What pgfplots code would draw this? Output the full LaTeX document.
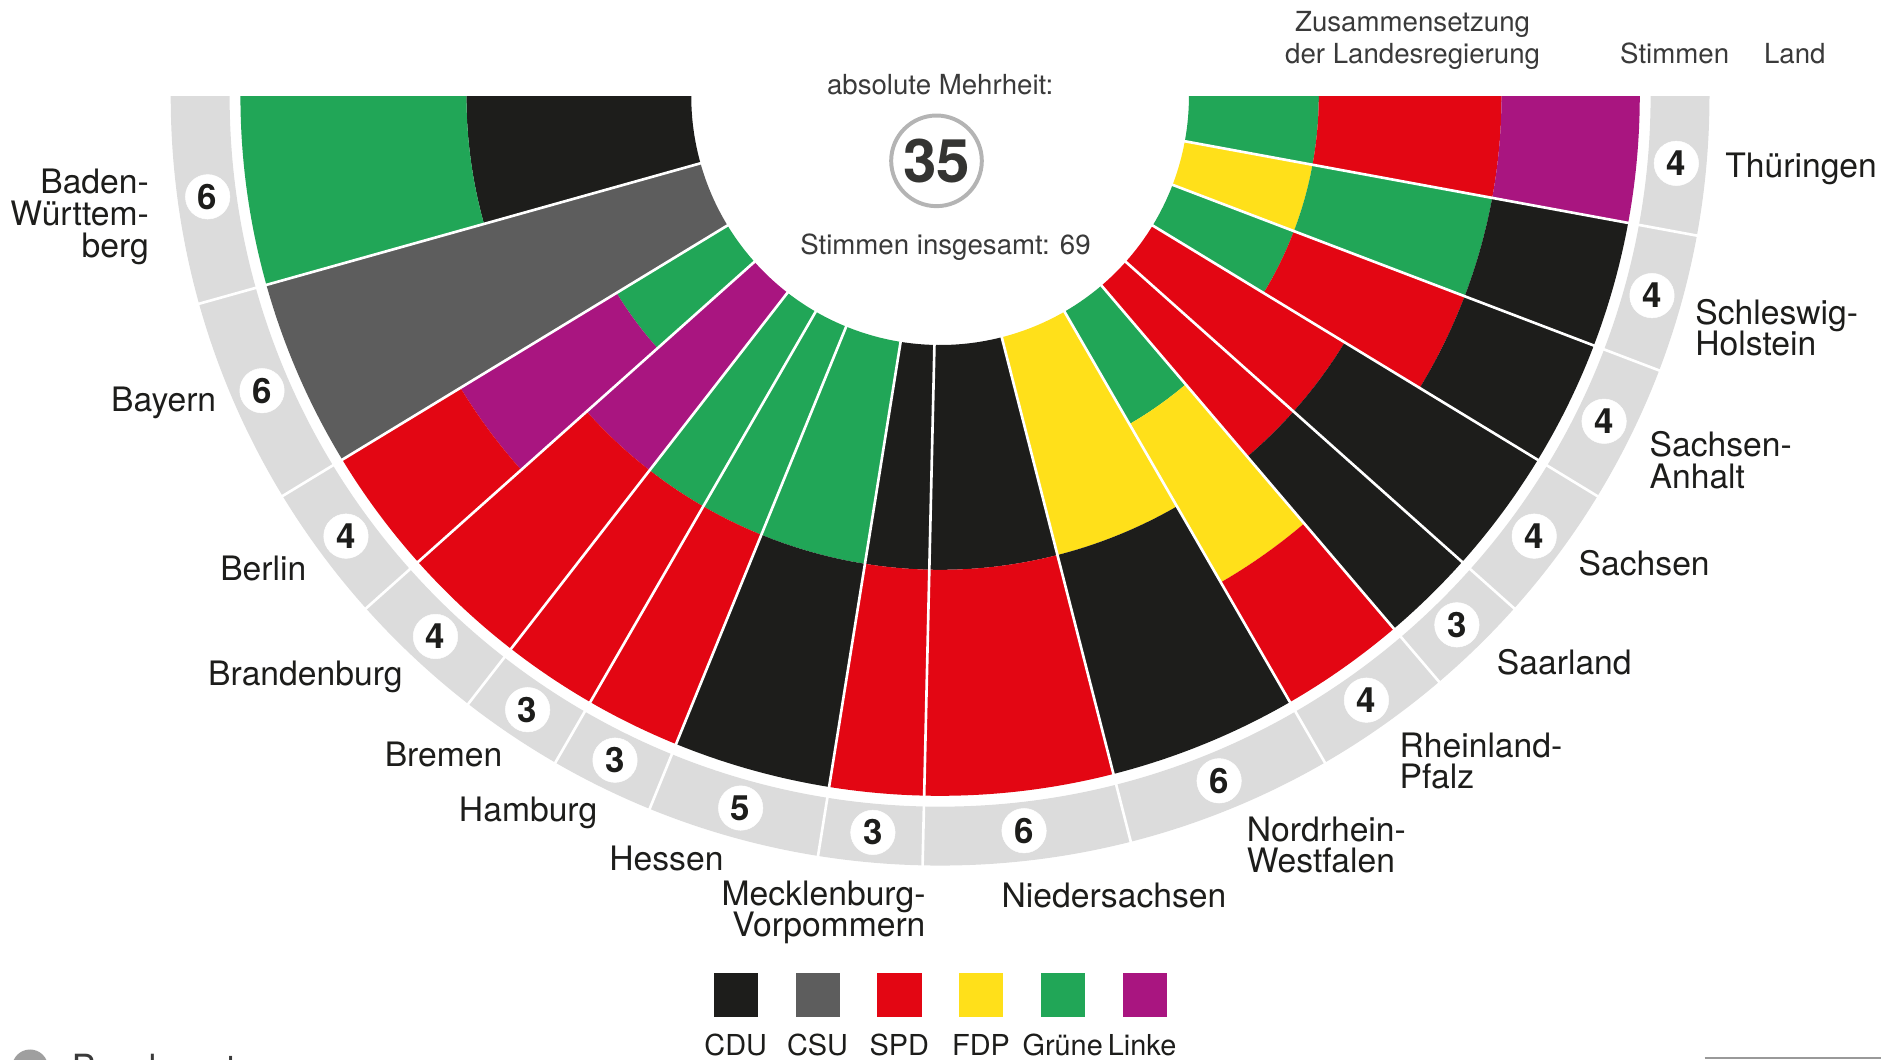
\documentclass[border=0pt]{standalone}
\usepackage{fontspec}
\setmainfont{TeX Gyre Heros}
\usepackage{pgfplots}
\usepgfplotslibrary{polar}
\pgfplotsset{compat=1.18}

\definecolor{cdu}{HTML}{1D1D1B}
\definecolor{csu}{HTML}{5D5D5D}
\definecolor{spd}{HTML}{E30613}
\definecolor{fdp}{HTML}{FFE01A}
\definecolor{gruene}{HTML}{21A657}
\definecolor{linke}{HTML}{A91580}
\definecolor{ring}{HTML}{DCDCDC}
\definecolor{txt}{HTML}{1D1D1B}
\definecolor{sub}{HTML}{3A3A3A}
\definecolor{circgrey}{HTML}{B4B4B4}

% annular sector: start vote, end vote (of 69), inner radius, outer radius, colour
\newcommand{\band}[5]{%
  \fill[#5] (axis cs:{#3*cos(180+#1*180/69)},{#3*sin(180+#1*180/69)})
    arc[start angle={180+#1*180/69}, end angle={180+#2*180/69}, radius=#3pt]
    -- (axis cs:{#4*cos(180+#2*180/69)},{#4*sin(180+#2*180/69)})
    arc[start angle={180+#2*180/69}, end angle={180+#1*180/69}, radius=#4pt]
    -- cycle;}

\tikzset{lab/.style={font=\fontsize{28}{28}\selectfont, text=txt, inner sep=0pt},
         hdr/.style={font=\fontsize{23}{23}\selectfont, text=sub, inner sep=0pt, anchor=base},
         leg/.style={font=\fontsize{24}{24}\selectfont, text=txt, inner sep=0pt, anchor=base}}

\begin{document}
\begin{tikzpicture}
\begin{axis}[x=1pt, y=1pt, xmin=-782, xmax=786, ymin=-801, ymax=80,
  hide axis, clip=false]

% ---- governing parties of each Land, inner to outer (votes cumulative 0..69)
% Baden-Wuerttemberg (6)
\band{0}{6}{207}{394}{cdu}
\band{0}{6}{394}{582}{gruene}
% Bayern (6)
\band{6}{12}{207}{582}{csu}
% Berlin (4)
\band{12}{16}{207}{315}{gruene}
\band{12}{16}{315}{467}{linke}
\band{12}{16}{467}{582}{spd}
% Brandenburg (4)
\band{16}{20}{207}{394}{linke}
\band{16}{20}{394}{582}{spd}
% Bremen (3)
\band{20}{23}{207}{394}{gruene}
\band{20}{23}{394}{582}{spd}
% Hamburg (3)
\band{23}{26}{207}{394}{gruene}
\band{23}{26}{394}{582}{spd}
% Hessen (5)
\band{26}{31}{207}{394}{gruene}
\band{26}{31}{394}{582}{cdu}
% Mecklenburg-Vorpommern (3)
\band{31}{34}{207}{394}{cdu}
\band{31}{34}{394}{582}{spd}
% Niedersachsen (6)
\band{34}{40}{207}{394}{cdu}
\band{34}{40}{394}{582}{spd}
% Nordrhein-Westfalen (6)
\band{40}{46}{207}{394}{fdp}
\band{40}{46}{394}{582}{cdu}
% Rheinland-Pfalz (4)
\band{46}{50}{207}{315}{gruene}
\band{46}{50}{315}{467}{fdp}
\band{46}{50}{467}{582}{spd}
% Saarland (3)
\band{50}{53}{207}{394}{spd}
\band{50}{53}{394}{582}{cdu}
% Sachsen (4)
\band{53}{57}{207}{394}{spd}
\band{53}{57}{394}{582}{cdu}
% Sachsen-Anhalt (4)
\band{57}{61}{207}{315}{gruene}
\band{57}{61}{315}{467}{spd}
\band{57}{61}{467}{582}{cdu}
% Schleswig-Holstein (4)
\band{61}{65}{207}{315}{fdp}
\band{61}{65}{315}{467}{gruene}
\band{61}{65}{467}{582}{cdu}
% Thueringen (4)
\band{65}{69}{207}{315}{gruene}
\band{65}{69}{315}{467}{spd}
\band{65}{69}{467}{582}{linke}

% ---- grey ring for the votes
\fill[ring] (axis cs:-591,0) arc[start angle=180, end angle=360, radius=591pt]
  -- (axis cs:640,0) arc[start angle=0, end angle=-180, radius=640pt] -- cycle;

% ---- white separators between the Laender
\pgfplotsinvokeforeach{6,12,16,20,23,26,31,34,40,46,50,53,57,61,65}{
  \draw[white, line width=2.2pt]
    (axis cs:{200*cos(180+#1*180/69)},{200*sin(180+#1*180/69)}) --
    (axis cs:{646*cos(180+#1*180/69)},{646*sin(180+#1*180/69)});
}

% ---- vote counts (polar: angle, radius)
\addplot[only marks, mark=*, mark size=18.5, color=white,
  mark options={fill=white, draw=white},
  data cs=polar, point meta=explicit symbolic, nodes near coords,
  every node near coord/.append style={anchor=center, text=txt, inner sep=0pt,
    font=\fontsize{29}{29}\selectfont\bfseries}]
  coordinates {
  (187.826,615) [6]
  (203.478,615) [6]
  (216.522,615) [4]
  (226.957,615) [4]
  (236.087,615) [3]
  (243.913,615) [3]
  (254.348,615) [5]
  (264.783,615) [3]
  (276.522,615) [6]
  (292.174,615) [6]
  (305.217,615) [4]
  (314.348,615) [3]
  (323.478,615) [4]
  (333.913,615) [4]
  (344.348,615) [4]
  (354.783,615) [4]
  };

% ---- state names
\node[lab, anchor=base east] at (axis cs:-658,-81) {Baden-};
\node[lab, anchor=base east] at (axis cs:-658,-108) {Württem-};
\node[lab, anchor=base east] at (axis cs:-658,-134) {berg};
\node[lab, anchor=base east] at (axis cs:-602,-262) {Bayern};
\node[lab, anchor=base east] at (axis cs:-527,-403) {Berlin};
\node[lab, anchor=base east] at (axis cs:-447,-490) {Brandenburg};
\node[lab, anchor=base east] at (axis cs:-364,-558) {Bremen};
\node[lab, anchor=base east] at (axis cs:-285,-603) {Hamburg};
\node[lab, anchor=base east] at (axis cs:-180,-644) {Hessen};
\node[lab, anchor=base east] at (axis cs:-12,-673) {Mecklenburg-};
\node[lab, anchor=base east] at (axis cs:-12,-699) {Vorpommern};
\node[lab, anchor=base west] at (axis cs:51,-675) {Niedersachsen};
\node[lab, anchor=base west] at (axis cs:255,-620) {Nordrhein-};
\node[lab, anchor=base west] at (axis cs:255,-646) {Westfalen};
\node[lab, anchor=base west] at (axis cs:382,-550) {Rheinland-};
\node[lab, anchor=base west] at (axis cs:382,-576) {Pfalz};
\node[lab, anchor=base west] at (axis cs:463,-481) {Saarland};
\node[lab, anchor=base west] at (axis cs:531,-399) {Sachsen};
\node[lab, anchor=base west] at (axis cs:590,-300) {Sachsen-};
\node[lab, anchor=base west] at (axis cs:590,-326) {Anhalt};
\node[lab, anchor=base west] at (axis cs:628,-190) {Schleswig-};
\node[lab, anchor=base west] at (axis cs:628,-216) {Holstein};
\node[lab, anchor=base west] at (axis cs:653,-68) {Thüringen};

% ---- column headers
\node[hdr] at (axis cs:393,54) {Zusammensetzung};
\node[hdr] at (axis cs:393,27) {der Landesregierung};
\node[hdr] at (axis cs:611,27) {Stimmen};
\node[hdr] at (axis cs:711,27) {Land};

% ---- centre
\node[hdr] at (axis cs:0,1) {absolute Mehrheit:};
\draw[circgrey, line width=3.3pt] (axis cs:-3,-53.8) circle[radius=37.7pt];
\node[font=\fontsize{50}{50}\selectfont\bfseries, text=txt!90!white, inner sep=0pt]
  at (axis cs:-3,-53.8) {35};
\node[hdr] at (axis cs:4.5,-132) {Stimmen insgesamt: 69};

% ---- legend
\addplot[only marks, mark=square*, mark size=18, color=cdu] coordinates {(-170,-747.5)};
\addplot[only marks, mark=square*, mark size=18, color=csu] coordinates {(-102,-747.5)};
\addplot[only marks, mark=square*, mark size=18, color=spd] coordinates {(-34,-747.5)};
\addplot[only marks, mark=square*, mark size=18, color=fdp] coordinates {(34,-747.5)};
\addplot[only marks, mark=square*, mark size=18, color=gruene] coordinates {(102,-747.5)};
\addplot[only marks, mark=square*, mark size=18, color=linke] coordinates {(170,-747.5)};
\node[leg] at (axis cs:-170,-798) {CDU};
\node[leg] at (axis cs:-102,-798) {CSU};
\node[leg] at (axis cs:-34,-798) {SPD};
\node[leg] at (axis cs:34,-798) {FDP};
\node[leg] at (axis cs:102,-798) {Grüne};
\node[leg] at (axis cs:168,-798) {Linke};

% ---- cut-off footer
\fill[gray!75] (axis cs:-757,-808) circle[radius=15pt];
\node[font=\fontsize{30}{30}\selectfont, text=sub, inner sep=0pt, anchor=base west]
  at (axis cs:-722,-819) {Bundesrat};
\draw[gray!80, line width=1.5pt] (axis cs:636,-800) -- (axis cs:783,-800);

\coordinate (bl) at (axis cs:-782,-801);
\coordinate (tr) at (axis cs:786,80);
\end{axis}
\pgfresetboundingbox
\useasboundingbox (bl) rectangle (tr);
\end{tikzpicture}
\end{document}
